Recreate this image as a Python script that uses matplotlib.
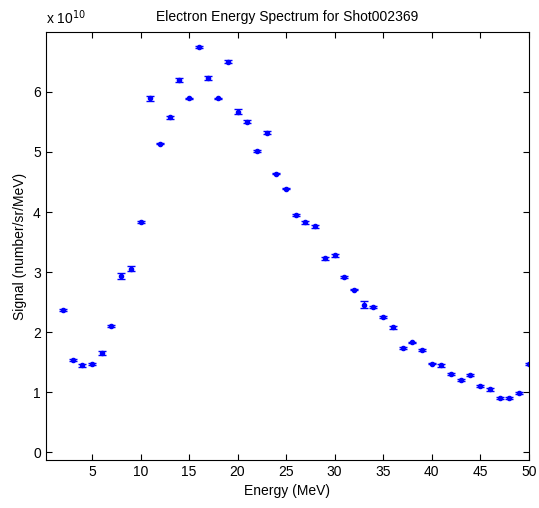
import matplotlib
matplotlib.use("Agg")
import matplotlib.pyplot as plt
import numpy as np

plt.rcParams['font.family'] = ['Liberation Sans', 'DejaVu Sans']

# Data (signal in units of 1e10 number/sr/MeV)
energy = list(range(2, 51))
signal = [2.37, 1.54, 1.45, 1.47, 1.66, 2.10, 2.93, 3.06, 3.84,
          5.89, 5.14, 5.58, 6.20, 5.89, 6.75, 6.23, 5.89, 6.50, 5.67,
          5.50, 5.02, 5.32, 4.64, 4.39, 3.95, 3.83, 3.76, 3.23, 3.28,
          2.92, 2.71, 2.46, 2.42, 2.26, 2.08, 1.74, 1.83, 1.70, 1.48,
          1.45, 1.30, 1.20, 1.29, 1.11, 1.05, 0.90, 0.90, 0.99, 1.47]
error = [0.015, 0.02, 0.02, 0.015, 0.03, 0.02, 0.05, 0.04, 0.015,
         0.04, 0.015, 0.025, 0.03, 0.015, 0.02, 0.03, 0.015, 0.025, 0.045,
         0.025, 0.015, 0.03, 0.015, 0.015, 0.02, 0.025, 0.02, 0.03, 0.025,
         0.015, 0.015, 0.06, 0.02, 0.015, 0.02, 0.015, 0.015, 0.02, 0.015,
         0.02, 0.015, 0.015, 0.02, 0.015, 0.02, 0.015, 0.015, 0.015, 0.015]

fig = plt.figure(figsize=(5.39, 5.08), dpi=100)
ax = fig.add_axes([45.7 / 539, 1 - 459.7 / 508, (528.7 - 45.7) / 539, (459.7 - 32.3) / 508])

ax.errorbar(energy, signal, yerr=error, fmt='.', color='#0000ff',
            markersize=6, elinewidth=1, capsize=3.2, capthick=1)

ax.set_xlim(0.23, 50)
ax.set_ylim(-0.12, 6.99)
ax.set_xticks(range(5, 51, 5))
ax.set_yticks(range(0, 7))
ax.tick_params(direction='in', top=True, right=True, length=4, labelsize=10, width=0.8)
for s in ax.spines.values():
    s.set_linewidth(0.8)

ax.set_title("Electron Energy Spectrum for Shot002369", fontsize=10, pad=8)
ax.set_xlabel("Energy (MeV)", fontsize=10)
ax.set_ylabel("Signal (number/sr/MeV)", fontsize=10)
ax.text(0.0, 1.012, r"x 10$^{10}$", transform=ax.transAxes, fontsize=10,
        ha='left', va='bottom')

fig.savefig("out.png", dpi=100)
